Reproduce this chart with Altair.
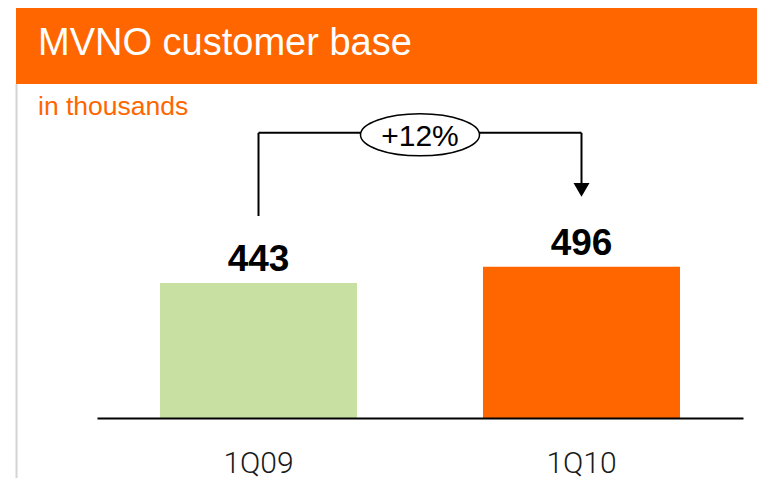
import altair as alt
import pandas as pd

categories = ["1Q09", "1Q10"]
values = [443, 496]
bar_colors = ["#C9E0A3", "#FF6600"]
title_text = "MVNO customer base"
subtitle_text = "in thousands"
growth_label = f"+{round((values[1] / values[0] - 1) * 100)}%"

W, H = 646, 334
PAD = {"left": 89, "top": 76, "right": 14, "bottom": 60}
YMAX = 1096
ORANGE = "#FF6600"

df = pd.DataFrame({"quarter": categories, "value": values, "color": bar_colors})
df["vmax"] = max(values)

x_scale = alt.Scale(domain=categories, paddingInner=0.39, paddingOuter=0.195)
y_scale = alt.Scale(domain=[0, YMAX], nice=False, zero=True)
x_axis = alt.Axis(title=None, ticks=False, domainColor="black", domainWidth=2,
                  labelFontSize=30, labelFont="Roboto", labelFontWeight=300,
                  labelColor="#1a1a1a", labelPadding=54, labelBaseline="alphabetic",
                  labelAngle=0, grid=False, zindex=1)
X = alt.X("quarter:N", scale=x_scale, sort=categories, axis=x_axis)


def Y(field):
    return alt.Y(f"{field}:Q", scale=y_scale, axis=None)


base = alt.Chart(df)
dummy = alt.Chart(pd.DataFrame({"a": [0]}))
first = alt.datum.quarter == categories[0]
second = alt.datum.quarter == categories[1]
half_step = W / (len(categories) - 0.39 + 2 * 0.195) / 2

banner = dummy.mark_rect(color=ORANGE).encode(
    x=alt.value(-81), x2=alt.value(W + 20), y=alt.value(-77), y2=alt.value(0))
border = dummy.mark_rule(color="#d4d4d4", strokeWidth=2).encode(
    x=alt.value(-80.5), y=alt.value(0), y2=alt.value(H + 70))
title = dummy.mark_text(text=title_text, font="Liberation Sans", fontSize=38,
                        color="white", align="left", baseline="alphabetic").encode(
    x=alt.value(-59), y=alt.value(-29))
subtitle = dummy.mark_text(text=subtitle_text, font="Liberation Sans", fontSize=26.5,
                           color=ORANGE, align="left", baseline="alphabetic").encode(
    x=alt.value(-59), y=alt.value(31))

bars = base.mark_bar().encode(x=X, y=Y("value"), color=alt.Color("color:N", scale=None))
labels = base.mark_text(font="Liberation Sans", fontSize=37, fontWeight="bold",
                        baseline="alphabetic", dy=-12, color="black").encode(
    x=X, y=Y("value"), text="value:Q")

left_line = base.transform_filter(first).mark_rule(
    color="black", strokeWidth=2, yOffset=-67, y2Offset=-134).encode(
    x=X, y=Y("value"), y2="vmax:Q")
top_line = base.mark_line(color="black", strokeWidth=2, yOffset=-134).encode(
    x=X, y=Y("vmax"))
right_line = base.transform_filter(second).mark_rule(
    color="black", strokeWidth=2, yOffset=-134, y2Offset=-81).encode(
    x=X, y=Y("vmax"), y2="value:Q")
arrow = base.transform_filter(second).mark_point(
    shape="triangle-down", size=256, filled=True, color="black", opacity=1,
    yOffset=-77).encode(x=X, y=Y("value"))
ellipse = base.transform_filter(first).mark_point(
    shape="M-1,0A1,0.353,0,1,1,1,0A1,0.353,0,1,1,-1,0Z", size=14161,
    fill="white", stroke="black", strokeWidth=1.5, opacity=1, fillOpacity=1,
    xOffset=half_step, yOffset=-132).encode(x=X, y=Y("vmax"))
growth = base.transform_filter(first).mark_text(
    text=growth_label, font="Liberation Sans", fontSize=30, color="black",
    baseline="alphabetic", dx=half_step, dy=-121).encode(x=X, y=Y("vmax"))

chart = alt.layer(
    banner, border, bars, labels, left_line, top_line, right_line, arrow,
    ellipse, growth, title, subtitle
).properties(
    width=W, height=H, padding=PAD, autosize="none", background="white"
).configure_view(stroke=None)

chart.save("out.html", embed_options={"renderer": "svg", "actions": False})
